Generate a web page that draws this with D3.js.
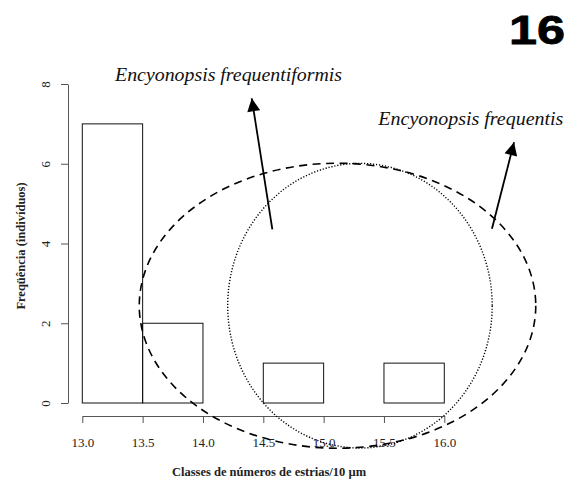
<!DOCTYPE html>
<html>
<head>
<meta charset="utf-8">
<script src="https://cdn.jsdelivr.net/npm/d3@7/dist/d3.min.js"></script>
<style>
  html, body { margin: 0; padding: 0; background: #fff; }
  svg { display: block; }
</style>
</head>
<body>
<svg id="chart" width="577" height="486"></svg>
<script>
// Histogram: striae per 10 µm class counts
const breaks = [13.0, 13.5, 14.0, 14.5, 15.0, 15.5, 16.0];
const counts = [7, 2, 0, 1, 0, 1];
const xTicks = [13.0, 13.5, 14.0, 14.5, 15.0, 15.5, 16.0];
const yTicks = [0, 2, 4, 6, 8];

// Group outlines (centre, radii in data units)
const groupEllipses = [
  { name: "frequentiformis", cx: 15.115, cy: 2.44, rx: 1.643, ry: 3.574, dash: "8,5.5" },
  { name: "frequentis",      cx: 15.301, cy: 2.44, rx: 1.096, ry: 3.569, dash: "1.2,1.8" }
];

// Labels and pointer arrows (data units)
const labels = [
  { text: "Encyonopsis frequentiformis", x: 14.212, y: 8.083, width: 227 },
  { text: "Encyonopsis frequentis",      x: 16.220, y: 6.972, width: 185 }
];
const arrows = [
  { x1: 14.575, y1: 4.356, x2: 14.404, y2: 7.641 },
  { x1: 16.395, y1: 4.369, x2: 16.578, y2: 6.538 }
];

const xTitle = "Classes de números de estrias/10 µm";
const yTitle = "Freqüência (indivíduos)";
const panelLabel = "16";

const SERIF = "'Liberation Serif', 'Times New Roman', Times, serif";

const svg = d3.select("#chart");

const x = d3.scaleLinear().domain([13, 16]).range([82.3, 444.3]);
const y = d3.scaleLinear().domain([0, 8]).range([403, 84]);

const bins = counts.map((c, i) => ({ x0: breaks[i], x1: breaks[i + 1], n: c }));

// Bars
svg.append("g")
  .selectAll("rect")
  .data(bins)
  .join("rect")
  .attr("x", d => x(d.x0))
  .attr("y", d => y(d.n))
  .attr("width", d => x(d.x1) - x(d.x0))
  .attr("height", d => y(0) - y(d.n))
  .attr("fill", "none")
  .attr("stroke", "#111")
  .attr("stroke-width", 1);

// X axis (detached below the bars)
const gx = svg.append("g")
  .attr("transform", "translate(0,416)")
  .call(d3.axisBottom(x).tickValues(xTicks).tickFormat(d3.format(".1f")).tickSize(7).tickSizeOuter(0))
  .attr("font-family", SERIF)
  .attr("font-size", 13);
gx.select(".domain").attr("stroke", "#555");
gx.selectAll(".tick line").attr("stroke", "#555");
gx.selectAll(".tick text")
  .attr("fill", "#222")
  .attr("y", 30.5)
  .attr("dy", 0);

// Y axis (detached left of the bars)
const gy = svg.append("g")
  .attr("transform", "translate(68,0)")
  .call(d3.axisLeft(y).tickValues(yTicks).tickSize(7).tickSizeOuter(0))
  .attr("font-family", SERIF)
  .attr("font-size", 13);
gy.select(".domain").attr("stroke", "#555");
gy.selectAll(".tick line").attr("stroke", "#555");
gy.selectAll(".tick text")
  .attr("fill", "#222")
  .attr("transform", "rotate(-90)")
  .attr("x", 0)
  .attr("y", -18)
  .attr("dy", 0)
  .attr("text-anchor", "middle");

// Axis titles
svg.append("text")
  .attr("x", 269)
  .attr("y", 475.5)
  .attr("text-anchor", "middle")
  .attr("font-family", SERIF)
  .attr("font-size", 12.5)
  .attr("font-weight", "bold")
  .attr("fill", "#222")
  .text(xTitle);

svg.append("text")
  .attr("transform", "translate(25,246) rotate(-90)")
  .attr("text-anchor", "middle")
  .attr("font-family", SERIF)
  .attr("font-size", 12.5)
  .attr("font-weight", "bold")
  .attr("fill", "#222")
  .text(yTitle);

// Group ellipses
svg.append("g")
  .selectAll("ellipse")
  .data(groupEllipses)
  .join("ellipse")
  .attr("cx", d => x(d.cx))
  .attr("cy", d => y(d.cy))
  .attr("rx", d => x(d.cx + d.rx) - x(d.cx))
  .attr("ry", d => y(d.cy) - y(d.cy + d.ry))
  .attr("fill", "none")
  .attr("stroke", "#000")
  .attr("stroke-width", d => d.name === "frequentis" ? 1.4 : 1.6)
  .attr("stroke-dasharray", d => d.dash);

// Arrows with filled heads
const defs = svg.append("defs");
defs.append("marker")
  .attr("id", "head")
  .attr("viewBox", "0 0 10 10")
  .attr("refX", 10)
  .attr("refY", 5)
  .attr("markerUnits", "userSpaceOnUse")
  .attr("markerWidth", 15)
  .attr("markerHeight", 13)
  .attr("orient", "auto")
  .append("path")
  .attr("d", "M0,0 L10,5 L0,10 Z")
  .attr("fill", "#000");

svg.append("g")
  .selectAll("line")
  .data(arrows)
  .join("line")
  .attr("x1", d => x(d.x1))
  .attr("y1", d => y(d.y1))
  .attr("x2", d => x(d.x2))
  .attr("y2", d => y(d.y2))
  .attr("stroke", "#000")
  .attr("stroke-width", 1.8)
  .attr("marker-end", "url(#head)");

// Species labels
svg.append("g")
  .selectAll("text")
  .data(labels)
  .join("text")
  .attr("x", d => x(d.x))
  .attr("y", d => y(d.y))
  .attr("text-anchor", "middle")
  .attr("font-family", SERIF)
  .attr("font-size", 19)
  .attr("font-style", "italic")
  .attr("fill", "#111")
  .attr("textLength", d => d.width)
  .attr("lengthAdjust", "spacingAndGlyphs")
  .text(d => d.text);

// Panel number
svg.append("text")
  .attr("x", 509)
  .attr("y", 43.5)
  .attr("font-family", "'Liberation Sans', Arial, sans-serif")
  .attr("font-weight", "bold")
  .attr("font-size", 40)
  .attr("fill", "#000")
  .attr("stroke", "#000")
  .attr("stroke-width", 0.8)
  .attr("textLength", 56)
  .attr("lengthAdjust", "spacingAndGlyphs")
  .text(panelLabel);
</script>
</body>
</html>
